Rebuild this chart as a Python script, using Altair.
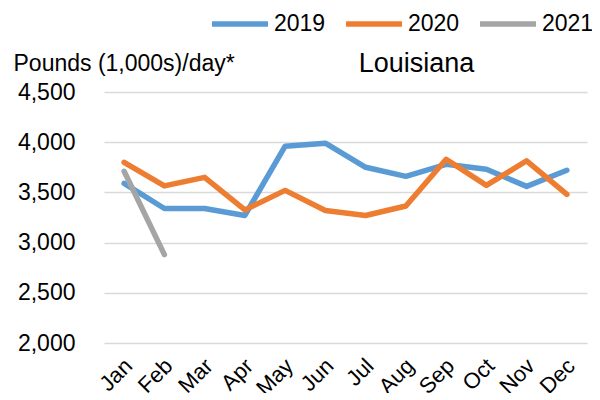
import altair as alt
import pandas as pd

months = ["Jan", "Feb", "Mar", "Apr", "May", "Jun", "Jul", "Aug", "Sep", "Oct", "Nov", "Dec"]
v2019 = [3590, 3340, 3340, 3270, 3960, 3990, 3750, 3660, 3780, 3730, 3560, 3720]
v2020 = [3800, 3565, 3650, 3325, 3520, 3320, 3270, 3365, 3830, 3570, 3815, 3480]
v2021 = [3710, 2880]
years = ["2019", "2020", "2021"]
colors = ["#5B9BD5", "#ED7D31", "#A5A5A5"]

rows = []
for yr, vals in zip(years, [v2019, v2020, v2021]):
    for m, v in zip(months, vals):
        rows.append({"month": m, "year": yr, "value": v})
df = pd.DataFrame(rows)

FONT = "Liberation Sans"

chart = (
    alt.Chart(df)
    .mark_line(strokeWidth=5.5, strokeCap="round", strokeJoin="round")
    .encode(
        x=alt.X(
            "month:N",
            sort=months,
            scale=alt.Scale(type="point", padding=0.5),
            axis=alt.Axis(
                title=None,
                labelAngle=-45,
                labelAlign="right",
                labelBaseline="middle",
                labelFontSize=22,
                labelFont=FONT,
                labelColor="#000000",
                labelPadding=19,
                labelOffset=4,
                ticks=False,
                domain=False,
                grid=False,
            ),
        ),
        y=alt.Y(
            "value:Q",
            scale=alt.Scale(domain=[2000, 4500], nice=False, zero=False),
            axis=alt.Axis(
                values=[2000, 2500, 3000, 3500, 4000, 4500],
                format=",d",
                title="Pounds (1,000s)/day*",
                titleAngle=0,
                titleAlign="left",
                titleBaseline="middle",
                titleX=-91,
                titleY=-29,
                titleFontSize=23,
                titleFont=FONT,
                titleFontWeight="normal",
                titleColor="#000000",
                labelFontSize=23,
                labelFont=FONT,
                labelColor="#000000",
                labelPadding=29,
                ticks=False,
                domain=False,
                grid=True,
                gridColor="#D9D9D9",
                gridWidth=1.5,
            ),
        ),
        color=alt.Color(
            "year:N",
            scale=alt.Scale(domain=years, range=colors),
            legend=alt.Legend(
                title=None,
                orient="none",
                direction="horizontal",
                legendX=105,
                legendY=-99,
                padding=0,
                symbolType="stroke",
                symbolSize=3136,
                symbolStrokeWidth=5.5,
                labelFontSize=23,
                labelFont=FONT,
                labelColor="#000000",
                labelOffset=3,
                columnPadding=9,
            ),
        ),
    )
    .properties(
        width=483,
        height=251,
        title=alt.TitleParams(
            text="Louisiana",
            fontSize=27,
            font=FONT,
            fontWeight="normal",
            color="#000000",
            anchor="middle",
            frame="group",
            dx=71,
            dy=85,
            offset=0,
        ),
        autosize=alt.AutoSizeParams(type="none"),
        padding={"left": 96, "top": 84, "right": 5, "bottom": 50},
    )
    .configure_view(stroke=None)
)

chart.save("out.html", embed_options={"renderer": "svg", "actions": False})
